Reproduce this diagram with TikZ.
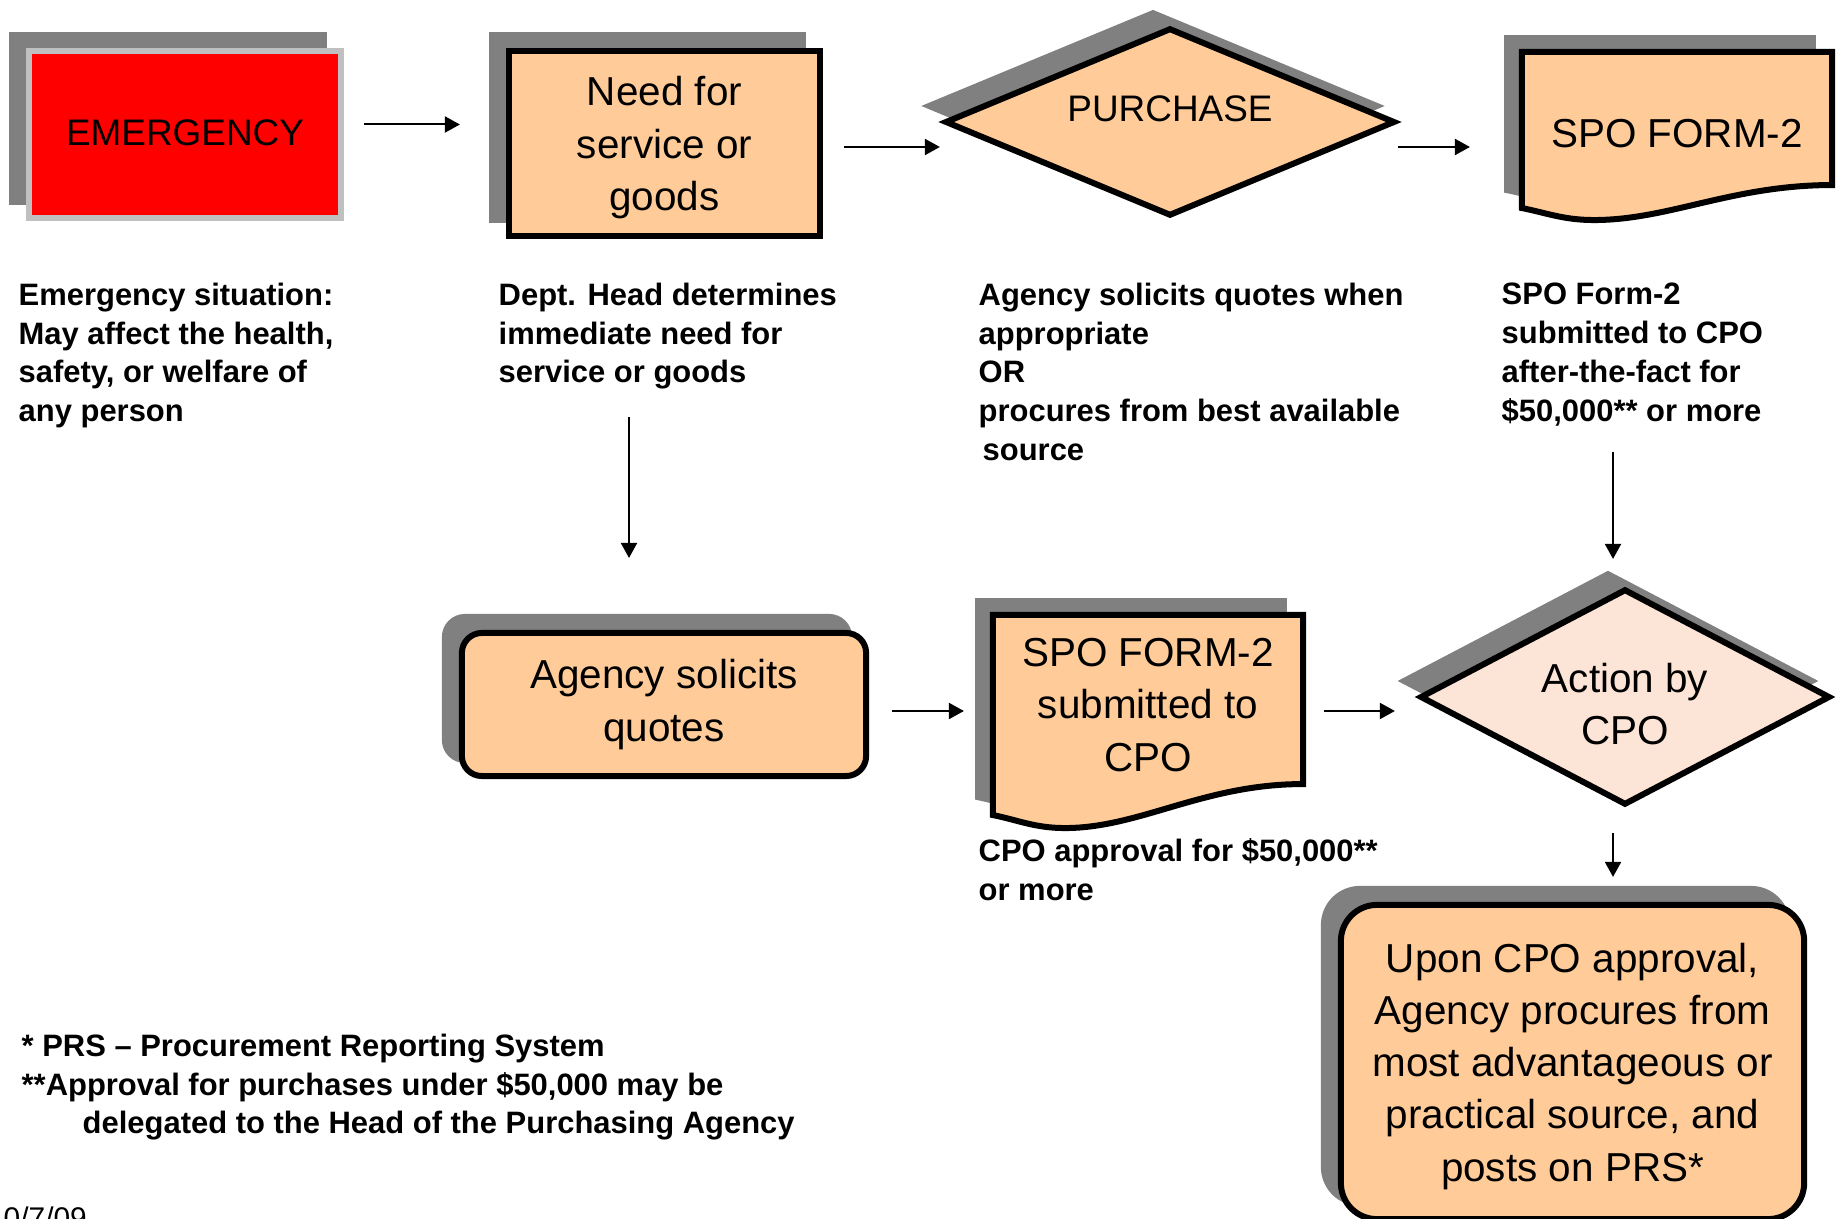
\documentclass[tikz,border=0pt]{standalone}
\usepackage{fontspec}
\setmainfont{Liberation Sans}
\usetikzlibrary{shapes.geometric, arrows.meta, calc, shadows, backgrounds}
\definecolor{peach}{HTML}{FFCC99}
\definecolor{paleorange}{HTML}{FCE4D6}
\definecolor{shadowgray}{HTML}{808080}
\definecolor{rimgray}{HTML}{C0C0C0}
\newcommand{\flowfont}{\fontsize{11.5pt}{14.85pt}\selectfont}
\newcommand{\memofont}{\fontsize{8.8pt}{11.07pt}\selectfont\bfseries}
% form outline: node, rise of right corner, offset of left corner, dip of the wave
\newcommand{\docpath}[4]{(#1.north west) -- (#1.north east) -- ($(#1.south east)+(0,-#2)$) .. controls +(-100,0) and +(75,0) .. ($(#1.south west)+(72,#4)$) .. controls +(-30,0) and +(25,5) .. ($(#1.south west)+(0,#3)$) -- cycle}

\begin{document}
\begin{tikzpicture}[x=0.01cm, y=-0.01cm,
    flow/.style={-{Triangle[length=0.15cm, width=0.16cm]}, line width=0.02cm},
    shadowed/.style={general shadow={fill=shadowgray, draw=shadowgray}, shadow xshift=-0.17cm, shadow yshift=0.16cm},
    stepframe/.style={shadowed, draw=black, fill=peach, line width=0.06cm, font=\flowfont, align=center},
    lowtext/.style={text depth=#1},
    docnode/.style={inner sep=0pt, outer sep=0pt, minimum width=3.1cm, font=\flowfont, align=center},
    docshape/.style={shadowed, draw=black, fill=peach, line width=0.06cm},
    memo/.style={anchor=north west, inner sep=0pt, align=left, font=\memofont}]
\useasboundingbox (0,0) rectangle (1837,1219);

% Top row
\node[stepframe, lowtext=1.3pt, draw=rimgray, fill=red, minimum width=3.12cm, minimum height=1.67cm, font={\fontsize{10.5pt}{12pt}\selectfont}] (emerg) at (185,134.5) {EMERGENCY};
\node[stepframe, lowtext=-0.4pt, minimum width=3.11cm, minimum height=1.85cm] (need) at (664.5,143.5) {Need for\\service or\\goods};
\node[stepframe, diamond, minimum width=4.5cm, minimum height=1.88cm, inner sep=0pt] (purchase) at (1170,122) {};
\node[font={\fontsize{10.5pt}{12pt}\selectfont}] (purchasetext) at (1170,109) {PURCHASE};
\node[docnode, minimum height=1.64cm] (spo) at (1677,134) {SPO FORM-2};

% Notes under the top row
\node[memo] (emgnote) at (18,282) {Emergency situation:\\May affect the health,\\safety, or welfare of\\any person};
\node[memo] (deptnote) at (498,282) {Dept. Head determines\\immediate need for\\service or goods};
\node[memo] (purchnote) at (978,282) {Agency solicits quotes when\\appropriate\\OR\\procures from best available\\\hspace*{0.04cm}source};
\node[memo] (sponote) at (1501,282) {SPO Form-2\\submitted to CPO\\after-the-fact for\\\$50,000** or more};

% Second row
\node[stepframe, rounded corners=0.2cm, minimum width=4.04cm, minimum height=1.43cm] (agency) at (664,704.5) {Agency solicits\\quotes};
\node[docnode, minimum height=1.8cm] (spo2) at (1148,705) {SPO FORM-2\\submitted to\\CPO};
\node[stepframe, diamond, fill=paleorange, minimum width=4.1cm, minimum height=2.16cm, inner sep=0pt] (action) at (1625,697) {};
\node[font=\flowfont, align=center] (actiontext) at ($(action.center)+(0,7)$) {Action by\\CPO};
\node[memo] (approvalnote) at (978,838) {CPO approval for \$50,000**\\or more};
\node[stepframe, lowtext=-0.4pt, rounded corners=0.36cm, minimum width=4.63cm, minimum height=3.14cm] (upon) at (1572.5,1062) {Upon CPO approval,\\Agency procures from\\most advantageous or\\practical source, and\\posts on PRS*};

% Document shapes
\begin{scope}[on background layer]
\path[docshape] \docpath{spo}{31}{-8}{4};
\path[docshape] \docpath{spo2}{11}{20}{33};
\end{scope}

% Footnotes
\node[memo] (footnote) at (21,1033) {* PRS -- Procurement Reporting System\\**Approval for purchases under \$50,000 may be\\\hspace*{0.61cm}delegated to the Head of the Purchasing Agency};
\node[anchor=base west, inner sep=0pt, font={\fontsize{8.5pt}{10pt}\selectfont}] (date) at (3,1228) {0/7/09};

% Arrows
\draw[flow] ($(emerg.east)+(20,-10)$) -- ($(need.west)+(-46,-19)$);
\draw[flow] ($(need.east)+(21,3.5)$) -- ($(purchase.west)+(-2,25)$);
\draw[flow] ($(purchase.east)+(0,25)$) -- ($(spo.west)+(-52,13)$);
\draw[flow] ($(deptnote.south west)+(131,27)$) -- ($(agency.north)+(-35,-72)$);
\draw[flow] ($(sponote.south west)+(112,25)$) -- ($(action.north)+(-12,-27)$);
\draw[flow] ($(agency.east)+(23,6.5)$) -- ($(spo2.west)+(-29,6)$);
\draw[flow] ($(spo2.east)+(21,6)$) -- ($(action.west)+(-22,14)$);
\draw[flow] ($(action.south)+(-12,25)$) -- ($(upon.north)+(40.5,-25)$);
\end{tikzpicture}
\end{document}
